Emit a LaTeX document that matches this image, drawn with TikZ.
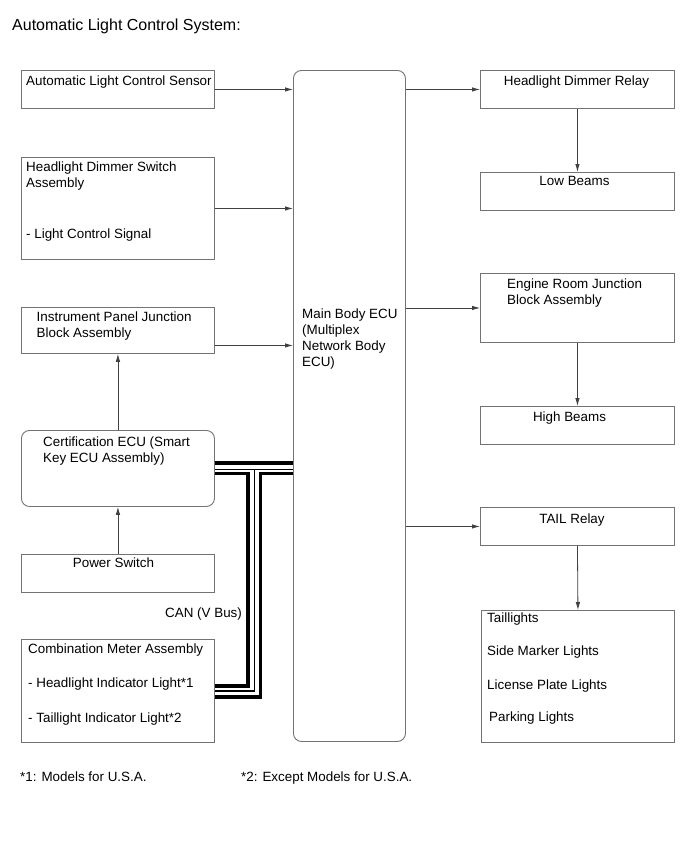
\documentclass[tikz,border=0pt]{standalone}
\usepackage{fontspec}
\setmainfont{Liberation Sans}
\usetikzlibrary{arrows.meta}
\begin{document}
\begin{tikzpicture}[x=1pt,y=-1pt,
  box/.style={draw=black!55,line width=0.9pt,inner sep=0pt,anchor=north west},
  rbox/.style={box,rounded corners=8pt},
  arr/.style={draw=black!75,line width=0.8pt,-{Latex[length=8pt,width=4.5pt]}},
  lbl/.style={anchor=base west,inner sep=0pt,font=\fontsize{13.4}{16}\selectfont},
  clbl/.style={anchor=base,inner sep=0pt,font=\fontsize{13.4}{16}\selectfont},
  busthick/.style={line width=3.5pt,black,line cap=butt,line join=miter},
  busthin/.style={line width=1.1pt,black,line cap=butt,line join=miter}]
\useasboundingbox (0,0) rectangle (690,855);
\fill[white] (0,0) rectangle (690,855);

% title
\node[anchor=base west,inner sep=0pt,font=\fontsize{16}{19}\selectfont] (title) at (12,30) {Automatic Light Control System:};

% left boxes
\node[box,minimum width=193pt,minimum height=38pt] (sensor) at (21,70) {};
\node[box,minimum width=193pt,minimum height=102pt] (dimsw) at (21,157) {};
\node[box,minimum width=193pt,minimum height=46pt] (ipj) at (21,307) {};
\node[rbox,minimum width=193pt,minimum height=76pt] (cert) at (21,430) {};
\node[box,minimum width=193pt,minimum height=38pt] (pwr) at (21,554) {};
\node[box,minimum width=193pt,minimum height=103pt] (meter) at (21,639) {};
% main ECU
\node[rbox,minimum width=112pt,minimum height=671pt] (ecu) at (293,70) {};
% right boxes
\node[box,minimum width=194pt,minimum height=38pt] (relay) at (480,70) {};
\node[box,minimum width=194pt,minimum height=38pt] (low) at (480,172) {};
\node[box,minimum width=194pt,minimum height=69pt] (erj) at (480,273) {};
\node[box,minimum width=194pt,minimum height=38pt] (high) at (480,406) {};
\node[box,minimum width=194pt,minimum height=38pt] (tail) at (480,507) {};
\node[box,minimum width=193pt,minimum height=132pt] (lights) at (481,610) {};

% texts
\node[lbl] (t1) at (26,85) {Automatic Light Control Sensor};
\node[lbl] (t2) at (26,171.5) {Headlight Dimmer Switch};
\node[lbl] (t3) at (26,187) {Assembly};
\node[lbl] (t4) at (26,238.5) {- Light Control Signal};
\node[lbl] (t5) at (36.5,321.5) {Instrument Panel Junction};
\node[lbl] (t6) at (36.5,337.5) {Block Assembly};
\node[lbl] (t7) at (43,446) {Certification ECU (Smart};
\node[lbl] (t8) at (43,462) {Key ECU Assembly)};
\node[clbl] (t9) at (113.5,567.5) {Power Switch};
\node[lbl] (t10) at (165,617) {CAN (V Bus)};
\node[lbl] (t11) at (28,653.5) {Combination Meter Assembly};
\node[lbl] (t12) at (28,687.5) {- Headlight Indicator Light*1};
\node[lbl] (t13) at (28,722.5) {- Taillight Indicator Light*2};
\node[lbl] (t14) at (302,318.3) {Main Body ECU};
\node[lbl] (t15) at (302,334.5) {(Multiplex};
\node[lbl] (t16) at (302,350.7) {Network Body};
\node[lbl] (t17) at (302,366.9) {ECU)};
\node[clbl] (t18) at (576.5,85) {Headlight Dimmer Relay};
\node[clbl] (t19) at (574.5,185) {Low Beams};
\node[lbl] (t20) at (507,288.5) {Engine Room Junction};
\node[lbl] (t21) at (507,304.5) {Block Assembly};
\node[clbl] (t22) at (569.5,421) {High Beams};
\node[clbl] (t23) at (572,523) {TAIL Relay};
\node[lbl] (t24) at (487,622) {Taillights};
\node[lbl] (t25) at (487,655.5) {Side Marker Lights};
\node[lbl] (t26) at (487,689) {License Plate Lights};
\node[lbl] (t27) at (489,721) {Parking Lights};
\node[lbl] (f1) at (20,781) {*1: Models for U.S.A.};
\node[lbl] (f2) at (241,781) {*2: Except Models for U.S.A.};

% arrows into ECU
\draw[arr] (sensor.east) -- (sensor.east -| ecu.west);
\draw[arr] (dimsw.east) -- (dimsw.east -| ecu.west);
\coordinate (ipjout) at ([yshift=-15pt]ipj.east);
\draw[arr] (ipjout) -- (ipjout -| ecu.west);
\draw[arr] (cert.north) -- (ipj.south);
\draw[arr] (pwr.north) -- (cert.south);
% arrows out of ECU
\draw[arr] (relay.west -| ecu.east) -- (relay.west);
\draw[arr] (relay.south) -- (low.north);
\draw[arr] (erj.west -| ecu.east) -- (erj.west);
\draw[arr] (erj.south) -- (high.north);
\draw[arr] (tail.west -| ecu.east) -- (tail.west);
\draw[arr] (tail.south) -- (lights.north);

% CAN bus
\coordinate (c1) at ([yshift=5.5pt]cert.east);
\coordinate (c2) at ([yshift=-1pt]cert.east);
\coordinate (c3) at ([yshift=-5pt]cert.east);
\coordinate (m1) at ([yshift=5pt]meter.east);
\coordinate (m2) at (meter.east);
\coordinate (m3) at ([yshift=-6pt]meter.east);
\coordinate (xin) at (248,0);
\coordinate (xthin) at (254.5,0);
\coordinate (xout) at (260.5,0);
\draw[busthick] (c1) -- (c1 -| ecu.west);
\draw[busthin] (c2) -- (c2 -| ecu.west);
\draw[busthin] (c2 -| xthin) -- (m2 -| xthin) -- (m2);
\draw[busthick] (c3) -- (c3 -| xin) -- (m1 -| xin) -- (m1);
\draw[busthick] (c3 -| ecu.west) -- (c3 -| xout) -- (m3 -| xout) -- (m3);
\end{tikzpicture}
\end{document}
